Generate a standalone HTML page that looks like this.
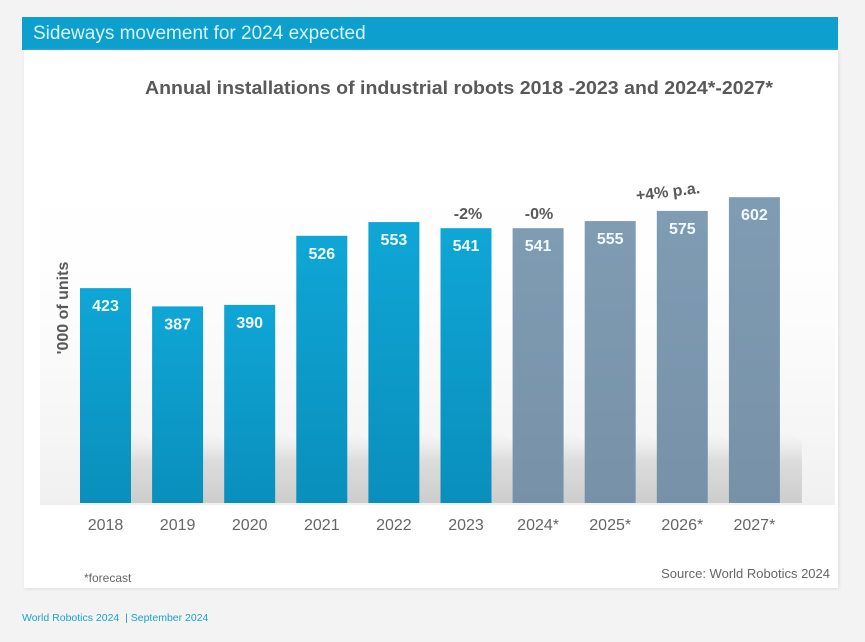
<!DOCTYPE html>
<html><head><meta charset="utf-8">
<style>
body{margin:0;width:865px;height:642px;background:#f3f3f3;font-family:"Liberation Sans",Arial,sans-serif;position:relative;overflow:hidden}
.hdr{position:absolute;left:22px;top:17px;width:816px;height:33px;background:#0d9fcd;color:#d6f7ff;font-size:19px;line-height:34px;padding-left:11px;box-sizing:border-box}
.panel{position:absolute;left:24px;top:50px;width:814px;height:538px;background:#fff;box-shadow:1px 1px 3px #ddd}
.foot{position:absolute;left:22px;top:612px;font-size:10.5px;color:#1aa3cc}
</style></head><body>
<div class="hdr">Sideways movement for 2024 expected</div>
<div class="panel"></div>
<svg id="chart" width="865" height="642" style="position:absolute;left:0;top:0">
<defs>
<linearGradient id="gb" x1="0" y1="0" x2="0" y2="1"><stop offset="0" stop-color="#0fa6d6"/><stop offset="1" stop-color="#0a8fbc"/></linearGradient>
<linearGradient id="gg" x1="0" y1="0" x2="0" y2="1"><stop offset="0" stop-color="#7f9cb3"/><stop offset="1" stop-color="#7791a8"/></linearGradient>
<linearGradient id="sh" x1="0" y1="0" x2="0" y2="1"><stop offset="0" stop-color="#e8e8e8" stop-opacity="0"/><stop offset="0.4" stop-color="#dcdcdc"/><stop offset="1" stop-color="#cdcdcd"/></linearGradient>
<linearGradient id="bg" x1="0" y1="0" x2="0" y2="1"><stop offset="0" stop-color="#fff" stop-opacity="0"/><stop offset="1" stop-color="#f0f0f0"/></linearGradient>
</defs>
<rect x="40" y="150" width="795" height="355" fill="url(#bg)"/>
<text x="459" y="94" text-anchor="middle" font-size="18" font-weight="bold" fill="#595959" textLength="628" lengthAdjust="spacingAndGlyphs">Annual installations of industrial robots 2018  -2023 and 2024*-2027*</text>
<text transform="translate(68,308) rotate(-90)" text-anchor="middle" font-size="16" font-weight="bold" fill="#595959">'000 of units</text>
<g id="bars"></g>
<text x="468" y="219" text-anchor="middle" font-size="16" font-weight="bold" fill="#595959">-2%</text>
<text x="539" y="219" text-anchor="middle" font-size="16" font-weight="bold" fill="#595959">-0%</text>
<text x="668" y="197" text-anchor="middle" font-size="16" font-weight="bold" fill="#595959" transform="rotate(-7,668,192)">+4% p.a.</text>
<text x="84" y="582" font-size="12" fill="#666">*forecast</text>
<text x="830" y="578" text-anchor="end" font-size="13" fill="#666">Source: World Robotics 2024</text>
</svg>
<div class="foot">World Robotics 2024 &nbsp;| September 2024</div>
<script>
const categories=["2018","2019","2020","2021","2022","2023","2024*","2025*","2026*","2027*"];
const values=[423,387,390,526,553,541,541,555,575,602];
const forecast=[false,false,false,false,false,false,true,true,true,true];
const baseY=503, pxPer=0.508, x0=80, step=72.1, bw=51;
const yScale=v=>baseY-v*pxPer;
const xScale=i=>x0+i*step;
const g=document.getElementById('bars');
const NS='http://www.w3.org/2000/svg';
for(let i=0;i<values.length;i++){
  const x=xScale(i);
  const p=document.createElementNS(NS,'polygon');
  p.setAttribute('points',`${x+bw},${baseY} ${x+bw},${Math.max(yScale(values[i]),baseY-70)} ${x+bw+14},${baseY-66} ${x+bw+22},${baseY-62} ${x+bw+22},${baseY}`);
  p.setAttribute('fill','url(#sh)');
  
  
  g.appendChild(p);
}
for(let i=0;i<values.length;i++){
  const x=xScale(i),y=yScale(values[i]);
  const r=document.createElementNS(NS,'rect');
  r.setAttribute('x',x);r.setAttribute('y',y);r.setAttribute('width',bw);r.setAttribute('height',baseY-y);
  r.setAttribute('fill',forecast[i]?'url(#gg)':'url(#gb)');
  
  
  g.appendChild(r);
  const t=document.createElementNS(NS,'text');
  t.setAttribute('x',x+bw/2);t.setAttribute('y',y+23);
  t.setAttribute('text-anchor','middle');t.setAttribute('font-size','16');t.setAttribute('font-weight','bold');t.setAttribute('fill','#f0fbff');
  t.textContent=values[i];
  
  
  g.appendChild(t);
  const c=document.createElementNS(NS,'text');
  c.setAttribute('x',x+bw/2);c.setAttribute('y',530);
  c.setAttribute('text-anchor','middle');c.setAttribute('font-size','16');c.setAttribute('fill','#666');
  c.textContent=categories[i];
  
  
  g.appendChild(c);
}
</script>
</body></html>
